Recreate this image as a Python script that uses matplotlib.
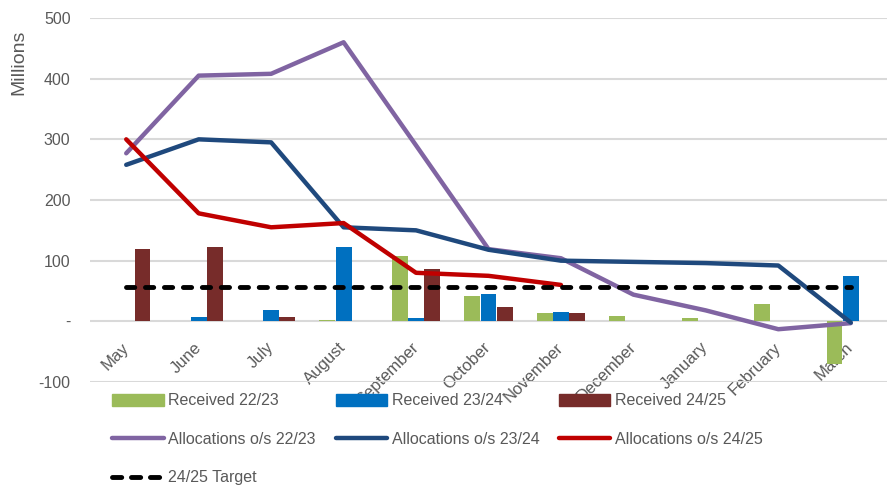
import numpy as np
import matplotlib
matplotlib.use('Agg')
import matplotlib.pyplot as plt
from matplotlib.lines import Line2D
from matplotlib.patches import Patch

months = ['May', 'June', 'July', 'August', 'September', 'October', 'November',
          'December', 'January', 'February', 'March']

recv_2223 = [0, 0, 0, 3, 108, 42, 14, 8, 5, 29, -71]
recv_2324 = [0, 7, 18, 123, 5, 45, 16, 0, 0, 0, 75]
recv_2425 = [119, 123, 7, 0, 87, 23, 14]

alloc_2223 = [277, 405, 408, 460, 290, 119, 104, 44, 18, -13, -3]
alloc_2324 = [258, 300, 295, 155, 150, 118, 100, 98, 96, 92, -2]
alloc_2425 = [300, 178, 155, 162, 80, 75, 60]

target_2425 = [57] * len(months)

plt.rcParams['font.family'] = ['Liberation Sans', 'DejaVu Sans']
grey = '#595959'
c_g, c_b, c_r = '#9BBB59', '#0070C0', '#772C2A'
c_pu, c_nv, c_red = '#8064A2', '#1F497D', '#C00000'

fig = plt.figure(figsize=(8.89, 4.87), dpi=100)
ax = fig.add_axes([90/889, 1-382/487, 797/889, 364/487])

x = np.arange(len(months))
w = 0.22
ax.bar(x - 0.225, recv_2223, w, color=c_g, zorder=2)
ax.bar(x, recv_2324, w, color=c_b, zorder=2)
ax.bar(x[:len(recv_2425)] + 0.225, recv_2425, w, color=c_r, zorder=2)

lw = 3.2
ax.plot(x, alloc_2223, color=c_pu, lw=lw, zorder=3, solid_capstyle='round')
ax.plot(x, alloc_2324, color=c_nv, lw=lw, zorder=3, solid_capstyle='round')
ax.plot(x[:len(alloc_2425)], alloc_2425, color=c_red, lw=lw, zorder=3, solid_capstyle='round')
ax.plot(x, target_2425, color='black', lw=3.5, ls=(0, (1.7, 2.2)),
        dash_capstyle='round', zorder=4)

ax.set_xlim(-0.5, len(months) - 0.5)
ax.set_ylim(-100, 500)
ax.set_yticks([-100, 0, 100, 200, 300, 400, 500])
ax.set_yticklabels(['-100', '-', '100', '200', '300', '400', '500'])
ax.yaxis.grid(True, color='#d9d9d9', lw=1.5, zorder=0)
ax.set_axisbelow(True)
for s in ['top', 'right', 'left']:
    ax.spines[s].set_visible(False)
ax.spines['bottom'].set_position(('data', 0))
ax.spines['bottom'].set_visible(False)
ax.tick_params(axis='y', length=0, pad=14, labelsize=11.5, labelcolor=grey)
ax.tick_params(axis='x', length=0, pad=17, labelsize=12, labelcolor=grey)
ax.set_xticks(x)
ax.set_xticklabels(months, rotation=45, ha='right', va='center', rotation_mode='anchor')

fig.text(19/889, 1-62/487, 'Millions', rotation=90, ha='center', va='center',
         fontsize=14, color=grey)

h = {
    'r22': Patch(color=c_g), 'r23': Patch(color=c_b), 'r24': Patch(color=c_r),
    'a22': Line2D([], [], color=c_pu, lw=lw, solid_capstyle='round'),
    'a23': Line2D([], [], color=c_nv, lw=lw, solid_capstyle='round'),
    'a24': Line2D([], [], color=c_red, lw=lw, solid_capstyle='round'),
    't': Line2D([], [], color='black', lw=3.5, ls=(0, (1.9, 2.0)), dash_capstyle='round'),
}
order = [('r22', 'Received 22/23'), ('a22', 'Allocations o/s 22/23'), ('t', '24/25 Target'),
         ('r23', 'Received 23/24'), ('a23', 'Allocations o/s 23/24'),
         ('r24', 'Received 24/25'), ('a24', 'Allocations o/s 24/25')]
leg = fig.legend([h[k] for k, _ in order], [l for _, l in order], ncol=3,
                 loc='upper left', bbox_to_anchor=(106/889, 1-387/487),
                 frameon=False, fontsize=11.5, handlelength=3.2, handleheight=0.75,
                 handletextpad=0.3, columnspacing=1.25, labelspacing=1.47, borderaxespad=0)
for t in leg.get_texts():
    t.set_color(grey)

fig.savefig('out.png', dpi=100, facecolor='white')
